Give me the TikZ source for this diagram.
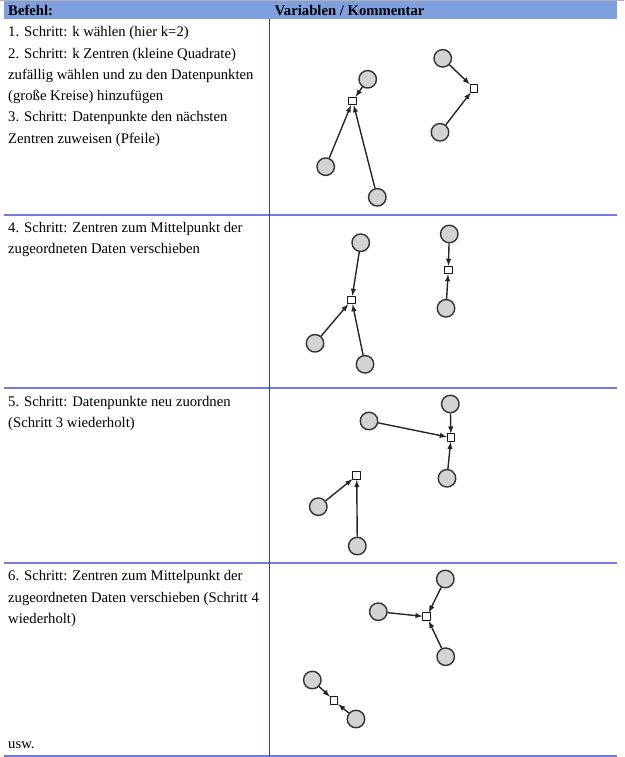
\documentclass[tikz,border=0pt]{standalone}
\usepackage{fontspec}
\setmainfont{Liberation Serif}
\usepackage{tikz}
\definecolor{kopfblau}{RGB}{127,159,223}
\definecolor{linienblau}{RGB}{110,125,220}
\definecolor{spaltenblau}{RGB}{50,65,185}
\definecolor{kreisgrau}{RGB}{211,211,211}
\tikzset{
  datum/.style={circle,draw=black!80,fill=kreisgrau,line width=1.4pt,minimum size=17.5pt,inner sep=0pt},
  zentrum/.style={rectangle,draw=black!90,line width=1pt,fill=white,minimum size=7.5pt,inner sep=0pt},
  zuweisung/.style={-latex,line width=1.4pt,black!85},
  zelle/.style={anchor=north west,align=left,inner sep=0pt,font=\fontsize{14.7}{21.3}\selectfont},
  kopf/.style={anchor=base west,inner sep=0pt,font=\fontsize{14.7}{17}\selectfont\bfseries}
}

\begin{document}
\begin{tikzpicture}[x=1pt,y=-1pt,join=round] % k-Means Schritte
        \useasboundingbox (0,0) rectangle (624,757);
        \draw[gray!60,line width=1.2pt] (0,0.6)--(624,0.6);
        \fill[kopfblau] (4,1) rectangle (617,19);
        \draw[linienblau,line width=1.4pt] (4,215)--(617,215) (4,388)--(617,388) (4,563)--(617,563) (4,756)--(617,756);
        \draw[spaltenblau,line width=0.9pt] (269.5,19)--(269.5,756);
        \node[kopf] (befehl) at (8,15.5) {Befehl:};
        \node[kopf] (kommentar) at (274.5,15.5) {Variablen / Kommentar};
        % Texte links
        \node[zelle] (text1) at (8,21.6) {\strut 1. Schritt: k wählen (hier k=2)\\2. Schritt: k Zentren (kleine Quadrate)\\zufällig wählen und zu den Datenpunkten\\(große Kreise) hinzufügen\\3. Schritt: Datenpunkte den nächsten\\Zentren zuweisen (Pfeile)};
        \node[zelle] (text2) at (8,217.1) {\strut 4. Schritt: Zentren zum Mittelpunkt der\\zugeordneten Daten verschieben};
        \node[zelle] (text3) at (8,391.5) {\strut 5. Schritt: Datenpunkte neu zuordnen\\(Schritt 3 wiederholt)};
        \node[zelle] (text4) at (8,565.8) {\strut 6. Schritt: Zentren zum Mittelpunkt der\\zugeordneten Daten verschieben (Schritt 4\\wiederholt)};
        \node[kopf,font=\fontsize{14.7}{17}\selectfont] (usw) at (8,748) {usw.};
        % Schritt 1-3
        \node[zentrum] (z1a) at (352.7,101) {};
        \node[zentrum] (z1b) at (474,88.3) {};
        \node[datum] (d1a) at (367.7,79.3) {};
        \node[datum] (d1b) at (325.7,166.7) {};
        \node[datum] (d1c) at (377.3,197.3) {};
        \node[datum] (d1d) at (442.7,58.3) {};
        \node[datum] (d1e) at (440,132.3) {};
        \draw[zuweisung] (d1a)--(z1a);
        \draw[zuweisung] (d1b)--(z1a);
        \draw[zuweisung] (d1c)--(z1a);
        \draw[zuweisung] (d1d)--(z1b);
        \draw[zuweisung] (d1e)--(z1b);
        % Schritt 4
        \node[zentrum] (z2a) at (351.7,300) {};
        \node[zentrum] (z2b) at (448.3,270) {};
        \node[datum] (d2a) at (360.7,242.7) {};
        \node[datum] (d2b) at (315,343.3) {};
        \node[datum] (d2c) at (365,364.3) {};
        \node[datum] (d2d) at (449.3,234) {};
        \node[datum] (d2e) at (446,308.3) {};
        \draw[zuweisung] (d2a)--(z2a);
        \draw[zuweisung] (d2b)--(z2a);
        \draw[zuweisung] (d2c)--(z2a);
        \draw[zuweisung] (d2d)--(z2b);
        \draw[zuweisung] (d2e)--(z2b);
        % Schritt 5
        \node[zentrum] (z3a) at (356.7,475.7) {};
        \node[zentrum] (z3b) at (451,437.7) {};
        \node[datum] (d3a) at (369,421) {};
        \node[datum] (d3b) at (450.3,404) {};
        \node[datum] (d3c) at (447,478.3) {};
        \node[datum] (d3d) at (318.3,506.7) {};
        \node[datum] (d3e) at (357.3,546) {};
        \draw[zuweisung] (d3a)--(z3b);
        \draw[zuweisung] (d3b)--(z3b);
        \draw[zuweisung] (d3c)--(z3b);
        \draw[zuweisung] (d3d)--(z3a);
        \draw[zuweisung] (d3e)--(z3a);
        % Schritt 6
        \node[zentrum] (z4a) at (426.7,616.7) {};
        \node[zentrum] (z4b) at (334,700.7) {};
        \node[datum] (d4a) at (445.3,579) {};
        \node[datum] (d4b) at (378.3,611.7) {};
        \node[datum] (d4c) at (445.7,656.7) {};
        \node[datum] (d4d) at (312.3,680) {};
        \node[datum] (d4e) at (356,719) {};
        \draw[zuweisung] (d4a)--(z4a);
        \draw[zuweisung] (d4b)--(z4a);
        \draw[zuweisung] (d4c)--(z4a);
        \draw[zuweisung] (d4d)--(z4b);
        \draw[zuweisung] (d4e)--(z4b);
     \end{tikzpicture}
\end{document}
